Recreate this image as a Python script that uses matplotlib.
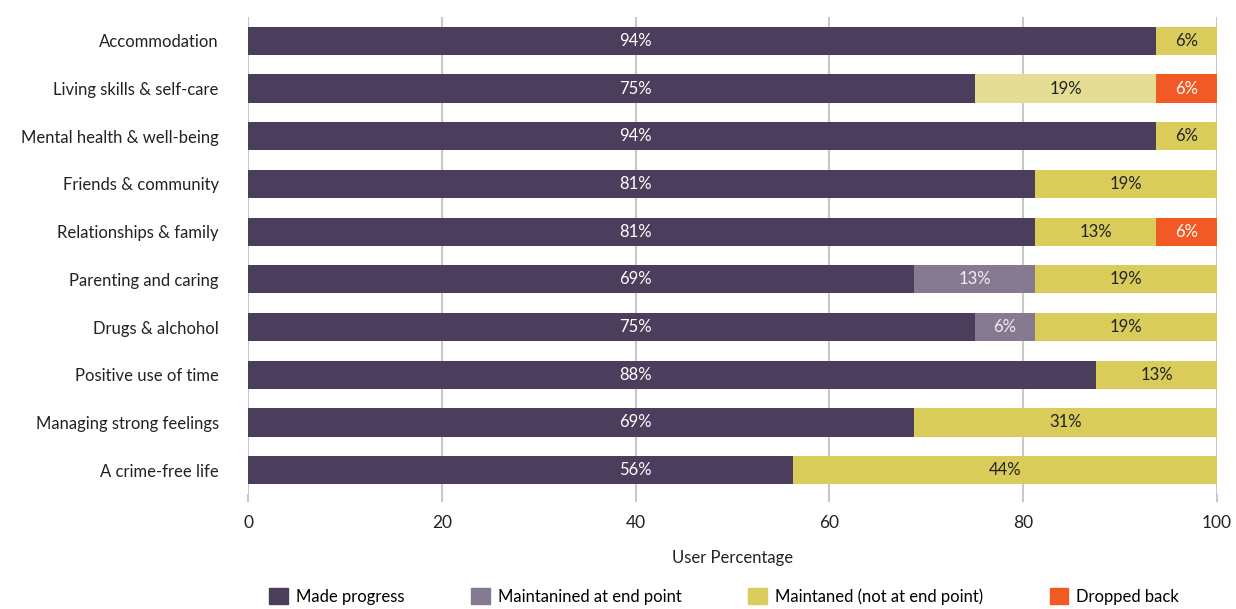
import matplotlib.pyplot as plt
from matplotlib.patches import Patch

categories = ['Accommodation', 'Living skills & self-care', 'Mental health & well-being',
              'Friends & community', 'Relationships & family', 'Parenting and caring',
              'Drugs & alchohol', 'Positive use of time', 'Managing strong feelings',
              'A crime-free life']
made_progress = [93.75, 75, 93.75, 81.25, 81.25, 68.75, 75, 87.5, 68.75, 56.25]
maintained_end = [0, 0, 0, 0, 0, 12.5, 6.25, 0, 0, 0]
maintained_not_end = [6.25, 18.75, 6.25, 18.75, 12.5, 18.75, 18.75, 12.5, 31.25, 43.75]
dropped_back = [0, 6.25, 0, 0, 6.25, 0, 0, 0, 0, 0]
series_names = ['Made progress', 'Maintanined at end point',
                'Maintaned (not at end point)', 'Dropped back']
x_ticks = [0, 20, 40, 60, 80, 100]

colors = ['#4b3d5c', '#857a8f', '#d9cc5a', '#f15a24']
text_colors = ['white', '#f0eef2', '#222222', 'white']
highlight = '#e5dd96'  # lighter segment on the living skills row


def main():
    plt.rcParams['font.family'] = ['Lato', 'DejaVu Sans']
    fig = plt.figure(figsize=(12.36, 6.09), dpi=100)
    ax = fig.add_axes([248 / 1236, 1 - 494 / 609, 969 / 1236, 477 / 609])

    series = [made_progress, maintained_end, maintained_not_end, dropped_back]
    ypos = list(range(len(categories)))
    left = [0.0] * len(categories)
    for s, (vals, col, tcol) in enumerate(zip(series, colors, text_colors)):
        bar_cols = [col] * len(vals)
        if s == 2:
            bar_cols[1] = highlight
        ax.barh(ypos, vals, left=left, height=0.59, color=bar_cols, zorder=3)
        for i, v in enumerate(vals):
            if v > 0:
                # first series labels sit at a fixed spot, others centred
                xt = 40 if s == 0 else left[i] + v / 2
                ax.text(xt, i, f'{int(v + 0.5)}%', ha='center', va='center',
                        color=tcol, fontsize=12, zorder=4)
        left = [a + b for a, b in zip(left, vals)]

    ax.set_ylim(len(categories) - 0.5, -0.5)
    ax.set_xlim(0, 100)
    ax.set_yticks(ypos)
    ax.set_yticklabels(categories, fontsize=12, color='#222222')
    ax.set_xticks(x_ticks)
    ax.set_xticklabels([str(t) for t in x_ticks], fontsize=12.5, color='#222222')
    ax.tick_params(axis='y', length=0, pad=21)
    ax.tick_params(axis='x', length=6, color='#c8c8c8', width=1.5, pad=9)
    ax.grid(axis='x', color='#c8c8c8', linewidth=1.5, zorder=0)
    for sp in ax.spines.values():
        sp.set_visible(False)
    ax.set_xlabel('User Percentage', fontsize=12, color='#222222', labelpad=14)

    handles = [Patch(color=c) for c in colors]
    fig.legend(handles, series_names, loc='lower center', ncol=4, frameon=False,
               bbox_to_anchor=(0.586, -0.018), fontsize=12, handlelength=1.1,
               handleheight=1.1, columnspacing=4.0, handletextpad=0.5)

    fig.savefig('out.png', dpi=100)


if __name__ == '__main__':
    main()
